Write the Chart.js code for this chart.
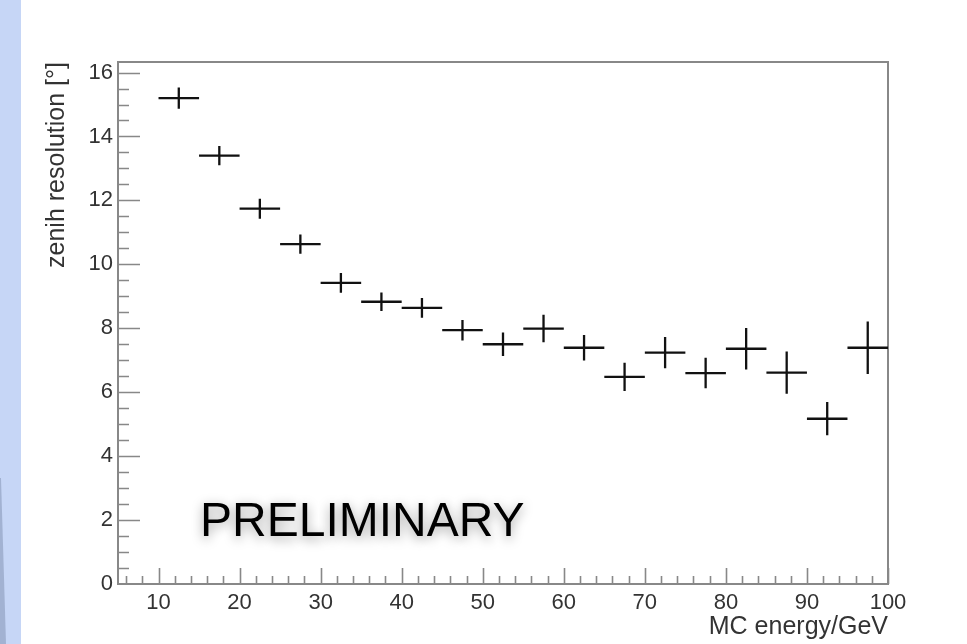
<!DOCTYPE html>
<html>
<head>
<meta charset="utf-8">
<script src="https://cdn.jsdelivr.net/npm/chart.js@4.4.1/dist/chart.umd.min.js"></script>
<style>
    html, body { margin: 0; padding: 0; background: #fff; }
    #wrap { position: relative; width: 967px; height: 644px; overflow: hidden; }
    #stripe { position: absolute; left: 0; top: 0; width: 21px; height: 644px; background: #c6d6f6; }
    #shade { position: absolute; left: 0; top: 0; width: 21px; height: 644px; background: #a2b2d2;
             clip-path: polygon(0 478px, 1px 478px, 6px 644px, 0 644px); }
    canvas { position: absolute; left: 0; top: 0; }
</style>
</head>
<body>
<div id="wrap">
    <div id="stripe"></div>
    <div id="shade"></div>
    <canvas id="resChart" width="967" height="644"></canvas>
</div>
<script>
// bin centres (GeV) and half widths
const energy = [12.5, 17.5, 22.5, 27.5, 32.5, 37.5, 42.5, 47.5, 52.5, 57.5, 62.5, 67.5, 72.5, 77.5, 82.5, 87.5, 92.5, 97.5];
const energyErr = [2.5, 2.5, 2.5, 2.5, 2.5, 2.5, 2.5, 2.5, 2.5, 2.5, 2.5, 2.5, 2.5, 2.5, 2.5, 2.5, 2.5, 2.5];
// zenith resolution (deg) and its error
const resolution = [15.2, 13.4, 11.74, 10.63, 9.42, 8.83, 8.64, 7.94, 7.5, 7.99, 7.39, 6.48, 7.24, 6.6, 7.36, 6.61, 5.17, 7.39];
const resolutionErr = [0.33, 0.3, 0.31, 0.3, 0.31, 0.29, 0.31, 0.32, 0.37, 0.43, 0.4, 0.44, 0.49, 0.48, 0.65, 0.66, 0.52, 0.82];
// axis ticks
const xTickLabels = [10, 20, 30, 40, 50, 60, 70, 80, 90, 100];
const yTickLabels = [0, 2, 4, 6, 8, 10, 12, 14, 16];

const axisGray = '#888888';
const labelColor = '#333333';
const fontFamily = '"Liberation Sans", Arial, Helvetica, sans-serif';

// ROOT style frame, inner ticks, error crosses and the PRELIMINARY stamp
const rootStyle = {
    id: 'rootStyle',
    afterDatasetsDraw(chart) {
        const ctx = chart.ctx;
        const area = chart.chartArea;
        const xs = chart.scales.x;
        const ys = chart.scales.y;
        ctx.save();

        // ticks
        ctx.strokeStyle = axisGray;
        ctx.lineWidth = 1.6;
        ctx.beginPath();
        for (let v = 6; v <= 100; v += 2) {
            const px = Math.round(xs.getPixelForValue(v)) + 0.5;
            const len = (v % 10 === 0) ? 16 : 8;
            ctx.moveTo(px, area.bottom);
            ctx.lineTo(px, area.bottom - len);
        }
        for (let v = 0.5; v <= 16; v += 0.5) {
            const py = Math.round(ys.getPixelForValue(v)) + 0.5;
            const len = (v % 2 === 0) ? 22 : 11;
            ctx.moveTo(area.left, py);
            ctx.lineTo(area.left + len, py);
        }
        ctx.stroke();

        // frame
        ctx.lineWidth = 2;
        ctx.strokeRect(area.left, area.top, area.right - area.left, area.bottom - area.top);

        // error crosses
        ctx.strokeStyle = '#111111';
        ctx.lineWidth = 2.3;
        ctx.beginPath();
        for (let i = 0; i < energy.length; i++) {
            const x0 = xs.getPixelForValue(energy[i] - energyErr[i]);
            const x1 = xs.getPixelForValue(energy[i] + energyErr[i]);
            const xc = xs.getPixelForValue(energy[i]);
            const yc = ys.getPixelForValue(resolution[i]);
            const y0 = ys.getPixelForValue(resolution[i] - resolutionErr[i]);
            const y1 = ys.getPixelForValue(resolution[i] + resolutionErr[i]);
            ctx.moveTo(x0, yc);
            ctx.lineTo(x1, yc);
            ctx.moveTo(xc, y0);
            ctx.lineTo(xc, y1);
        }
        ctx.stroke();

        // stamp
        ctx.font = '48px ' + fontFamily;
        ctx.fillStyle = '#000';
        ctx.textAlign = 'left';
        ctx.textBaseline = 'alphabetic';
        ctx.shadowColor = 'rgba(0, 0, 0, 0.4)';
        ctx.shadowBlur = 12;
        ctx.shadowOffsetY = 3;
        ctx.fillText('PRELIMINARY', 200, 536);
        ctx.restore();
    }
};

const ctx = document.getElementById('resChart').getContext('2d');
new Chart(ctx, {
    type: 'scatter',
    data: {
        datasets: [{
            label: 'zenith resolution',
            data: energy.map((e, i) => ({ x: e, y: resolution[i] })),
            pointRadius: 0,
            showLine: false
        }]
    },
    options: {
        responsive: false,
        animation: false,
        events: [],
        layout: { padding: { left: 0, right: 79, top: 62, bottom: 0 } },
        plugins: {
            legend: { display: false },
            tooltip: { enabled: false }
        },
        scales: {
            x: {
                type: 'linear',
                min: 5,
                max: 100,
                grid: { display: false, drawTicks: false },
                border: { display: false },
                afterBuildTicks: scale => { scale.ticks = xTickLabels.map(v => ({ value: v })); },
                afterFit: scale => { scale.height = 60; },
                ticks: {
                    color: labelColor,
                    padding: 6,
                    maxRotation: 0,
                    autoSkip: false,
                    font: { family: fontFamily, size: 22 }
                },
                title: {
                    display: true,
                    text: 'MC energy/GeV',
                    align: 'end',
                    color: labelColor,
                    padding: { top: 0, bottom: 2 },
                    font: { family: fontFamily, size: 25 }
                }
            },
            y: {
                type: 'linear',
                min: 0,
                max: 16.33,
                grid: { display: false, drawTicks: false },
                border: { display: false },
                afterBuildTicks: scale => { scale.ticks = yTickLabels.map(v => ({ value: v })); },
                afterFit: scale => { scale.width = 118; },
                ticks: {
                    color: labelColor,
                    padding: 5,
                    autoSkip: false,
                    font: { family: fontFamily, size: 22 }
                },
                title: {
                    display: true,
                    text: 'zenih resolution [°]',
                    align: 'end',
                    color: labelColor,
                    padding: { top: 42, bottom: 0 },
                    font: { family: fontFamily, size: 25 }
                }
            }
        }
    },
    plugins: [rootStyle]
});
</script>
</body>
</html>
